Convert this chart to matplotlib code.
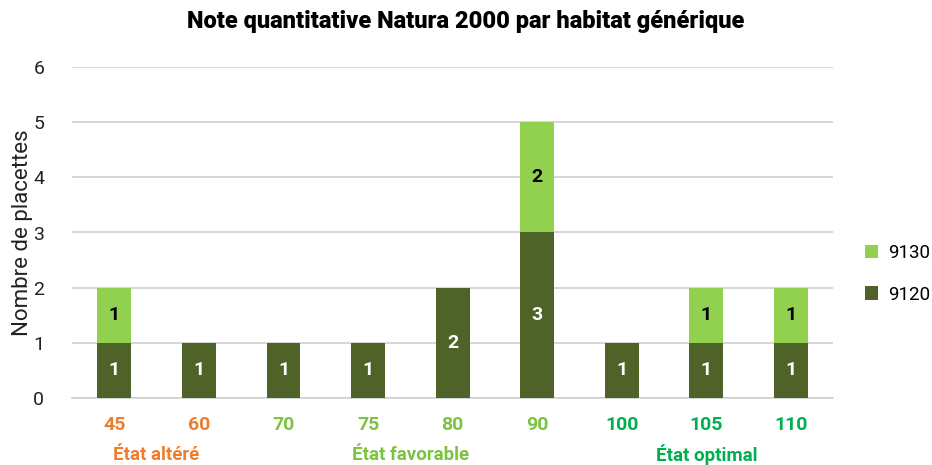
import matplotlib
matplotlib.use("Agg")
import matplotlib.pyplot as plt
import numpy as np

categories = ["45", "60", "70", "75", "80", "90", "100", "105", "110"]
s9120 = [1, 1, 1, 1, 2, 3, 1, 1, 1]
s9130 = [1, 0, 0, 0, 0, 2, 0, 1, 1]
series_names = ["9120", "9130"]
groups = ["État altéré", "État favorable", "État optimal"]
group_members = [[0, 1], [2, 3, 4, 5], [6, 7, 8]]

c_dark = "#4F6228"
c_light = "#92D050"
c_orange = "#ED7D31"
c_fav = "#7DC242"
c_opt = "#00B050"
tick_colors = [c_orange, c_orange, c_fav, c_fav, c_fav, c_fav, c_opt, c_opt, c_opt]
group_colors = [c_orange, c_fav, c_opt]

plt.rcParams['font.family'] = ['Roboto', 'DejaVu Sans']

fig = plt.figure(figsize=(9.32, 4.65), dpi=100)
ax = fig.add_axes([0.0773, 0.144, 0.8167, 0.712])
x = np.arange(len(categories))
w = 0.4
b1 = ax.bar(x, s9120, w, color=c_dark, label=series_names[0], zorder=3)
b2 = ax.bar(x, s9130, w, bottom=s9120, color=c_light, label=series_names[1], zorder=3)

for i in range(len(categories)):
    if s9120[i] > 0:
        ax.text(x[i], s9120[i] / 2, str(s9120[i]), ha="center", va="center",
                color="white", fontsize=14, fontweight="bold", zorder=4)
    if s9130[i] > 0:
        ax.text(x[i], s9120[i] + s9130[i] / 2, str(s9130[i]), ha="center", va="center",
                color="black", fontsize=14, fontweight="bold", zorder=4)

ax.set_xlim(-0.5, len(categories) - 0.5)
ax.set_ylim(0, 6)
ax.set_yticks(range(7))
ax.yaxis.grid(True, color="#D0D0D0", linewidth=1.2, zorder=0)
ax.set_axisbelow(True)
for s in ["top", "right", "left"]:
    ax.spines[s].set_visible(False)
ax.spines["bottom"].set_color("#D0D0D0")
ax.spines["bottom"].set_linewidth(1.2)
ax.tick_params(axis="y", length=0, labelsize=14, pad=20, labelcolor="#222222")
ax.tick_params(axis="x", length=0, labelsize=14, pad=13)
ax.set_xticks(x)
ax.set_xticklabels(categories, fontweight="bold")
for lbl, c in zip(ax.get_xticklabels(), tick_colors):
    lbl.set_color(c)
ax.set_ylabel("Nombre de placettes", fontsize=16, color="#222222", labelpad=0)

for g, mem, c in zip(groups, group_members, group_colors):
    xc = np.mean([x[m] for m in mem])
    ax.text(xc, -0.172, g, transform=ax.get_xaxis_transform(), ha="center", va="center",
            color=c, fontsize=13.5, fontweight="bold")

fig.text(0.5, 0.953, "Note quantitative Natura 2000 par habitat générique",
         ha="center", va="center", fontsize=17, fontweight="black", color="black")

handles = [b2, b1]
ax.legend(handles, [series_names[1], series_names[0]], loc="center left",
          bbox_to_anchor=(1.02, 0.375), frameon=False, fontsize=13.5,
          handlelength=0.7, handleheight=0.7, labelspacing=1.25, handletextpad=0.5)

fig.savefig("out.png", dpi=100)
